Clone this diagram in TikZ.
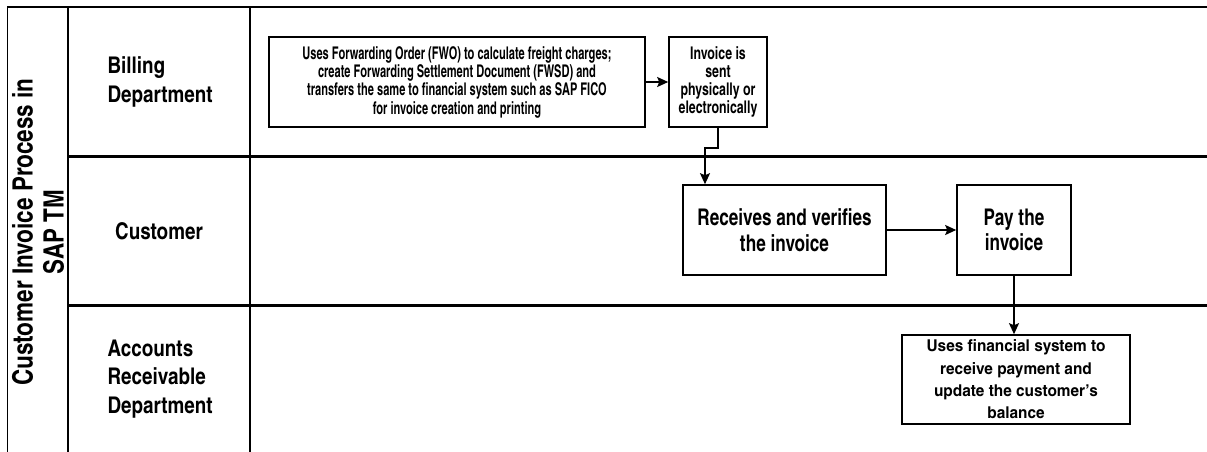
\documentclass[tikz,border=0pt]{standalone}
\usepackage{fontspec}
\setmainfont{TeX Gyre Heros Cn}
\newfontfamily\fwoF[FakeStretch=0.77]{TeX Gyre Heros Cn}
\newfontfamily\invF[FakeStretch=0.86]{TeX Gyre Heros Cn}
\newfontfamily\recF[FakeStretch=0.91]{TeX Gyre Heros Cn}
\newfontfamily\botF[FakeStretch=1.15]{TeX Gyre Heros Cn}
\newfontfamily\titF[FakeStretch=0.98]{TeX Gyre Heros Cn}
\usetikzlibrary{arrows.meta}
\begin{document}
\begin{tikzpicture}[x=1pt,y=-1pt,
  box/.style={draw,line width=1.6pt,align=center,inner sep=0pt,anchor=center},
  arr/.style={line width=1.6pt,-{Stealth[length=11pt,width=10pt,inset=2pt]}},
  lane/.style={align=left,anchor=west,font=\bfseries\fontsize{23}{28.7}\selectfont},
]
\useasboundingbox (0,0) rectangle (1207,452);
% frame
\draw[line width=1.6pt] (7.5,452) -- (7.5,7) -- (1207,7);
\draw[line width=2.2pt] (68,7) -- (68,452);
\draw[line width=2.2pt] (250,7) -- (250,452);
\draw[line width=3pt] (68,156) -- (1207,156);
\draw[line width=3pt] (68,305) -- (1207,305);
% title
\node[rotate=90,align=center,font=\titF\bfseries\fontsize{28}{31}\selectfont] (title) at (38,232) {Customer Invoice Process in\\SAP TM};
% lane labels
\node[lane] (l1) at (104,82) {Billing\\Department};
\node[lane,anchor=center] (l2) at (159,231) {Customer};
\node[lane] (l3) at (104,379) {Accounts\\Receivable\\Department};
% boxes
\node[box,minimum width=376pt,minimum height=90pt,font=\fwoF\bfseries\fontsize{17.5}{18.3}\selectfont] (fwo) at (457,82)
 {Uses Forwarding Order (FWO) to calculate freight charges;\\create Forwarding Settlement Document (FWSD) and\\transfers the same to financial system such as SAP FICO\\for invoice creation and printing};
\node[box,minimum width=98pt,minimum height=90pt,font=\invF\bfseries\fontsize{17.5}{18.3}\selectfont] (inv) at (718,82)
 {Invoice is\\sent\\physically or\\electronically};
\node[box,minimum width=203pt,minimum height=90pt,font=\recF\bfseries\fontsize{23}{25.5}\selectfont] (rec) at (784.5,230)
 {Receives and verifies\\the invoice};
\node[box,minimum width=114pt,minimum height=90pt,font=\recF\bfseries\fontsize{23}{25.5}\selectfont] (pay) at (1014,230)
 {Pay the\\invoice};
\node[box,minimum width=228pt,minimum height=89pt,font=\botF\bfseries\fontsize{16.3}{22.3}\selectfont] (bot) at (1016,379.5)
 {Uses financial system to\\receive payment and\\update the customer’s\\balance};
% connectors
\coordinate (bend) at (705,148);
\draw[arr] (fwo.east) -- (inv.west);
\draw[arr] (inv.south) |- (bend) -- (bend |- rec.north);
\draw[arr] (rec.east) -- (pay.west);
\draw[arr] (pay.south) -- (pay.south |- bot.north);
\end{tikzpicture}
\end{document}
